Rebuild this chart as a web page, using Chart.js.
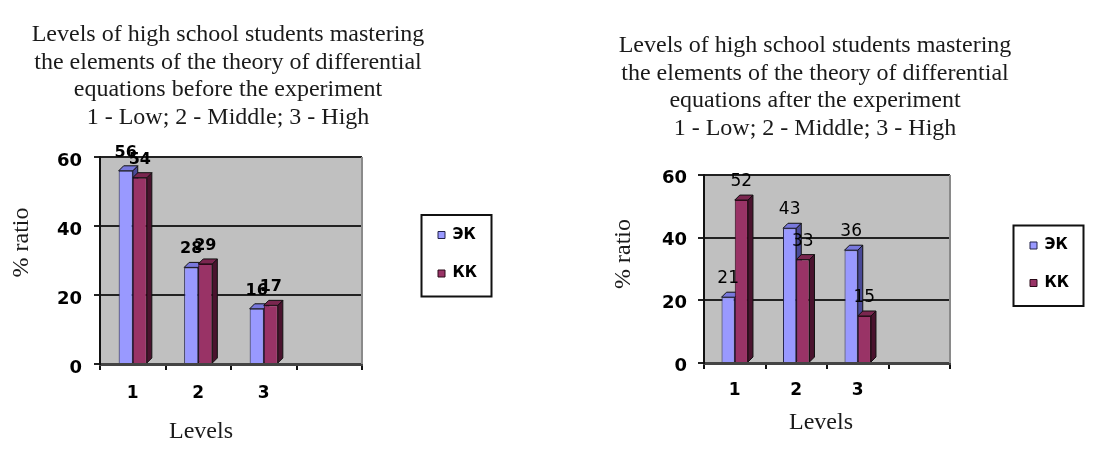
<!DOCTYPE html>
<html><head><meta charset="utf-8">
<script src="https://cdn.jsdelivr.net/npm/chart.js@4/dist/chart.umd.min.js"></script>
<style>
html,body{margin:0;padding:0;background:#fff;width:1108px;height:462px;overflow:hidden;}
.box{position:absolute;top:0;height:462px;}
#b1{left:0;width:500px;}
#b2{left:580px;width:520px;}
</style></head><body>
<div id="b1" class="box"><canvas id="c1"></canvas></div>
<div id="b2" class="box"><canvas id="c2"></canvas></div>
<script>
// ---- data ----
const levels = ['1', '2', '3', ''];
const seriesNames = ['ЭК', 'КК'];
const beforeEK = [56, 28, 16, null];
const beforeKK = [54, 29, 17, null];
const afterEK = [21, 43, 36, null];
const afterKK = [52, 33, 15, null];
const yTickValues = [0, 20, 40, 60];
const titleBefore = ['Levels of high school students mastering', 'the elements of the theory of differential', 'equations before the experiment', '1 - Low; 2 - Middle; 3 - High'];
const titleAfter = ['Levels of high school students mastering', 'the elements of the theory of differential', 'equations after the experiment', '1 - Low; 2 - Middle; 3 - High'];
const yAxisTitle = '% ratio';
const xAxisTitle = 'Levels';

const NB = '\u00a0';

const deco = {
  id: 'deco',
  afterLayout(chart, args, o) {
    const tb = chart.titleBlock;
    if (tb) { tb.left = o.titleL; tb.right = o.titleR; }
    const lg = chart.legend;
    if (lg) {
      const w = lg.width, h = lg.height;
      lg.left = o.lgX; lg.right = o.lgX + w; lg.top = o.lgY; lg.bottom = o.lgY + h;
    }
  },
  beforeDraw(chart) {
    const a = chart.chartArea, ctx = chart.ctx;
    ctx.save();
    ctx.fillStyle = '#C0C0C0';
    ctx.fillRect(a.left, a.top, a.right - a.left, a.bottom - a.top);
    ctx.restore();
  },
  beforeDatasetsDraw(chart, args, o) {
    const ctx = chart.ctx, a = chart.chartArea, d = o.depth;
    ctx.save();
    ctx.strokeStyle = '#8a8a8a'; ctx.lineWidth = 2;
    ctx.beginPath(); ctx.moveTo(a.right, a.top); ctx.lineTo(a.right, a.bottom); ctx.stroke();
    chart.data.datasets.forEach((ds, di) => {
      const meta = chart.getDatasetMeta(di);
      meta.data.forEach((el, i) => {
        if (ds.data[i] == null) return;
        const p = el.getProps(['x', 'y', 'base', 'width'], true);
        const l = p.x - p.width / 2, r = p.x + p.width / 2;
        ctx.lineWidth = 1; ctx.strokeStyle = '#111';
        ctx.fillStyle = ds.sideColor;
        ctx.beginPath(); ctx.moveTo(r, p.y); ctx.lineTo(r + d, p.y - d); ctx.lineTo(r + d, p.base - d); ctx.lineTo(r, p.base); ctx.closePath(); ctx.fill(); ctx.stroke();
        ctx.fillStyle = ds.topColor;
        ctx.beginPath(); ctx.moveTo(l, p.y); ctx.lineTo(l + d, p.y - d); ctx.lineTo(r + d, p.y - d); ctx.lineTo(r, p.y); ctx.closePath(); ctx.fill(); ctx.stroke();
      });
    });
    ctx.restore();
  },
  afterDatasetsDraw(chart, args, o) {
    const ctx = chart.ctx;
    ctx.save();
    ctx.font = o.labelFont; ctx.fillStyle = '#000'; ctx.textAlign = 'center'; ctx.textBaseline = 'alphabetic';
    chart.data.datasets.forEach((ds, di) => {
      const meta = chart.getDatasetMeta(di);
      meta.data.forEach((el, i) => {
        const v = ds.data[i];
        if (v == null) return;
        ctx.fillText(String(v), el.x, el.y - o.labelDy);
      });
    });
    ctx.restore();
  },
  afterDraw(chart) {
    const lg = chart.legend, ctx = chart.ctx;
    if (!lg || !lg.legendHitBoxes || !lg.legendHitBoxes.length) return;
    const hb = lg.legendHitBoxes, f = hb[0], la = hb[hb.length - 1];
    const left = f.left - 16.5, top = f.top + f.height / 2 - 20;
    const bottom = la.top + la.height / 2 + 23;
    ctx.save();
    ctx.strokeStyle = '#111'; ctx.lineWidth = 2;
    ctx.strokeRect(left, top, 70, bottom - top);
    ctx.restore();
  }
};

function buildConfig(p) {
  return {
    type: 'bar',
    data: {
      labels: levels,
      datasets: [
        { label: seriesNames[0], data: p.ek, backgroundColor: '#9999FF', borderColor: '#22224a', borderWidth: 1, sideColor: '#4a4a98', topColor: '#7878dc' },
        { label: seriesNames[1], data: p.kk, backgroundColor: '#993366', borderColor: '#2a0a18', borderWidth: 1, sideColor: '#4a132e', topColor: '#7a264f' }
      ]
    },
    options: {
      responsive: true, maintainAspectRatio: false, animation: false,
      layout: { padding: { left: 0, right: p.padR, top: 0, bottom: 0 } },
      datasets: { bar: { categoryPercentage: 0.43, barPercentage: 1 } },
      scales: {
        x: {
          ticks: { font: { family: 'DejaVu Sans', weight: 'bold', size: 17 }, color: '#000', padding: p.xTickPad },
          grid: { offset: true, drawOnChartArea: false, drawTicks: true, tickLength: 6, color: '#111', lineWidth: 2 },
          border: { display: true, color: '#444', width: 3 },
          title: { display: true, text: xAxisTitle + NB.repeat(p.xSp), font: { family: 'Liberation Serif', size: 24 }, color: '#1a1a1a', padding: { top: 0, bottom: p.xTitlePad } },
          afterFit(s) { s.height = p.xH; }
        },
        y: {
          min: 0, max: 60,
          afterBuildTicks(s) { s.ticks = yTickValues.map(v => ({ value: v })); },
          ticks: { font: { family: 'DejaVu Sans', weight: 'bold', size: 18 }, color: '#000', padding: p.yTickPad, labelOffset: p.yLabOff },
          grid: { color: '#222', lineWidth: 2, tickLength: 6, drawTicks: true },
          border: { display: true, color: '#111', width: 2 },
          title: { display: true, text: NB.repeat(p.ySp) + yAxisTitle, font: { family: 'Liberation Serif', size: 24 }, color: '#1a1a1a', padding: { top: p.yTitlePad, bottom: 0 } },
          afterFit(s) { s.width = p.yW; }
        }
      },
      plugins: {
        title: { display: true, text: p.title, font: { family: 'Liberation Serif', size: 24, lineHeight: 1.15, weight: 'normal' }, color: '#1a1a1a', padding: { top: p.tTop, bottom: p.tBot } },
        legend: { position: 'chartArea', align: 'start', labels: { boxWidth: 7, boxHeight: 7, padding: p.lgPad, color: '#000', font: { family: 'DejaVu Sans', weight: 'bold', size: 15 } } },
        tooltip: { enabled: false },
        deco: { titleL: p.titleL, titleR: p.titleR, lgX: p.lgX, lgY: p.lgY, depth: 5, labelFont: p.labelFont, labelDy: p.labelDy }
      }
    },
    plugins: [deco]
  };
}

new Chart(document.getElementById('c1'), buildConfig({
  ek: beforeEK, kk: beforeKK, title: titleBefore,
  padR: 138, yW: 100, xH: 98, tTop: 21, tBot: 25.6,
  xTickPad: 13, yTickPad: 12, yLabOff: 4, xTitlePad: 15.6, yTitlePad: 7.6,
  xSp: 10, ySp: 6, titleL: 0, titleR: 456,
  lgX: 414.5, lgY: 204, lgPad: 23.5,
  labelFont: 'bold 16px "DejaVu Sans"', labelDy: 14
}));

new Chart(document.getElementById('c2'), buildConfig({
  ek: afterEK, kk: afterKK, title: titleAfter,
  padR: 150, yW: 124, xH: 99, tTop: 32, tBot: 32.6,
  xTickPad: 11, yTickPad: 11, yLabOff: 3, xTitlePad: 24.6, yTitlePad: 29.6,
  xSp: 2, ySp: 5, titleL: 0, titleR: 470,
  lgX: 427.5, lgY: 215.5, lgPad: 22.5,
  labelFont: '17px "DejaVu Sans"', labelDy: 14
}));
</script>
</body></html>
